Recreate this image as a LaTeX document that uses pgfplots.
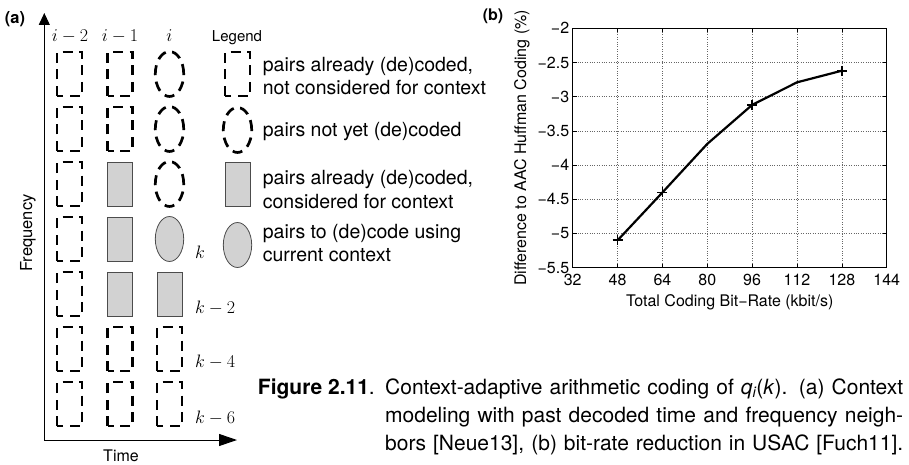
\RequirePackage{fix-cm}
\documentclass[border=0pt]{standalone}
\usepackage{fontspec}
\setmainfont{TeX Gyre Heros}
\usepackage{pgfplots}
\pgfplotsset{compat=1.18}
\usetikzlibrary{arrows.meta}
\tikzset{
  dr/.style={line width=2.7pt, dash pattern=on 10pt off 6.5pt, black},
  gr/.style={fill=gray!35, draw=black!70, line width=0.8pt},
}
\newcommand{\DR}[2]{\draw[dr] (axis cs:#1,#2) ++(-12.5pt,-22pt) rectangle ++(25pt,44pt);}
\newcommand{\GR}[2]{\draw[gr] (axis cs:#1,#2) ++(-12.5pt,-22pt) rectangle ++(25pt,44pt);}
\newcommand{\DE}[2]{\draw[dr] (axis cs:#1,#2) ellipse [x radius=14.2pt, y radius=22.5pt];}
\newcommand{\GE}[2]{\draw[gr] (axis cs:#1,#2) ellipse [x radius=14.2pt, y radius=22.5pt];}
\begin{document}
\begin{tikzpicture}
\path[use as bounding box] (0,0) rectangle (909pt,464pt);
% ---------------- panel (a) ----------------
\begin{axis}[
  at={(44.3pt,24pt)}, anchor=south west, scale only axis,
  width=192.7pt, height=427pt,
  xmin=44.3, xmax=237, ymin=24, ymax=451,
  axis lines=left, xtick=\empty, ytick=\empty, clip=false,
  axis line style={line width=1pt},
  x axis line style={-{Triangle[length=18pt,width=12pt]}},
  y axis line style={-{Triangle[length=12pt,width=11pt]}},
]
% row 1
\DR{69.5}{390}\DR{120}{390}\DE{169.5}{390}
% row 2
\DR{69.5}{335}\DR{120}{335}\DE{169.5}{335}
% row 3
\DR{69.5}{280}\GR{120}{280}\DE{169.5}{280}
% row 4
\DR{69.5}{225}\GR{120}{225}\GE{169.5}{225}
% row 5
\DR{69.5}{170}\GR{120}{170}\GR{169.5}{170}
% row 6
\DR{69.5}{115}\DR{120}{115}\DR{169.5}{115}
% row 7
\DR{69.5}{60}\DR{120}{60}\DR{169.5}{60}
% legend shapes
\DR{237.5}{390}
\DE{237.5}{334}
\GR{237.5}{280}
\GE{237.5}{219}
% column headers
\node[font=\fontsize{18}{20}\selectfont] at (axis cs:70,428) {$i-2$};
\node[font=\fontsize{18}{20}\selectfont] at (axis cs:120,428) {$i-1$};
\node[font=\fontsize{18}{20}\selectfont] at (axis cs:169.5,428) {$i$};
\node[font=\fontsize{15}{18}\selectfont] at (axis cs:237,426) {Legend};
% k labels
\node[anchor=west, inner sep=0pt, font=\fontsize{18}{20}\selectfont] at (axis cs:195,212) {$k$};
\node[anchor=west, inner sep=0pt, font=\fontsize{18}{20}\selectfont] at (axis cs:195,156) {$k-2$};
\node[anchor=west, inner sep=0pt, font=\fontsize{18}{20}\selectfont] at (axis cs:195,102) {$k-4$};
\node[anchor=west, inner sep=0pt, font=\fontsize{18}{20}\selectfont] at (axis cs:195,46) {$k-6$};
% legend text
\begin{scope}[every node/.style={anchor=base west, inner sep=0pt, font=\fontsize{19.5}{23}\selectfont}]
\node at (axis cs:262.7,392.3) {pairs already (de)coded,};
\node at (axis cs:262.7,369) {not considered for context};
\node at (axis cs:262.7,327.3) {pairs not yet (de)coded};
\node at (axis cs:262.7,279) {pairs already (de)coded,};
\node at (axis cs:262.7,256) {considered for context};
\node at (axis cs:262.7,225.7) {pairs to (de)code using};
\node at (axis cs:262.7,202.3) {current context};
\end{scope}
% axis titles
\node[font=\fontsize{16}{18}\selectfont] at (axis cs:121,8) {Time};
\node[font=\fontsize{16.5}{18}\selectfont, rotate=90] at (axis cs:28,231) {Frequency};
\end{axis}
% ---------------- panel (b) ----------------
\begin{axis}[
  at={(572.7pt,196.3pt)}, anchor=south west, scale only axis,
  width=314pt, height=239.4pt,
  xmin=32, xmax=144, ymin=-5.5, ymax=-2,
  xtick={32,48,64,80,96,112,128,144},
  xticklabels={32,48,64,80,96,112,128,144},
  ytick={-5.5,-5,-4.5,-4,-3.5,-3,-2.5,-2},
  yticklabels={−5.5,−5,−4.5,−4,−3.5,−3,−2.5,−2},
  grid=major, grid style={dotted, line width=0.7pt, black!60},
  tick align=inside, major tick length=4pt, tick style={black, line width=0.6pt},
  axis line style={line width=0.9pt},
  ticklabel style={font=\fontsize{16}{18}\selectfont},
  xticklabel style={yshift=-3pt},
  label style={font=\fontsize{16}{18}\selectfont},
  xlabel={Total Coding Bit−Rate (kbit/s)},
  ylabel={Difference to AAC Huffman Coding (\%)},
  xlabel style={at={(axis description cs:0.5,0)}, anchor=north, yshift=-23pt},
  ylabel style={at={(axis description cs:0,0.5)}, anchor=north, yshift=62pt},
]
\addplot[black, line width=2.2pt] coordinates {(48,-5.10) (64,-4.40) (80,-3.69) (96,-3.12) (112,-2.79) (128,-2.62)};
\addplot[only marks, mark=+, mark size=5pt, mark options={line width=1.8pt, black}] coordinates {(48,-5.10) (64,-4.40) (96,-3.12) (128,-2.62)};
\end{axis}
% panel letters
\node[font=\fontsize{16.5}{18}\selectfont\bfseries] at (15pt,445pt) {(a)};
\node[font=\fontsize{16}{18}\selectfont\bfseries] at (493pt,448pt) {(b)};
% caption
\begin{scope}[every node/.style={anchor=base west, inner sep=0pt, font=\fontsize{21}{25}\selectfont}]
\node[anchor=base east] at (375pt,70pt) {\textbf{Figure 2.11}.};
\node at (385pt,70pt) {\makebox[518pt][s]{Context-adaptive arithmetic coding of \textit{q\textsubscript{i}}(\textit{k}). (a) Context}};
\node at (385pt,42pt) {\makebox[518pt][s]{modeling with past decoded time and frequency neigh-}};
\node at (385pt,14pt) {\makebox[518pt][s]{bors [Neue13], (b) bit-rate reduction in USAC [Fuch11].}};
\end{scope}
\end{tikzpicture}
\end{document}
